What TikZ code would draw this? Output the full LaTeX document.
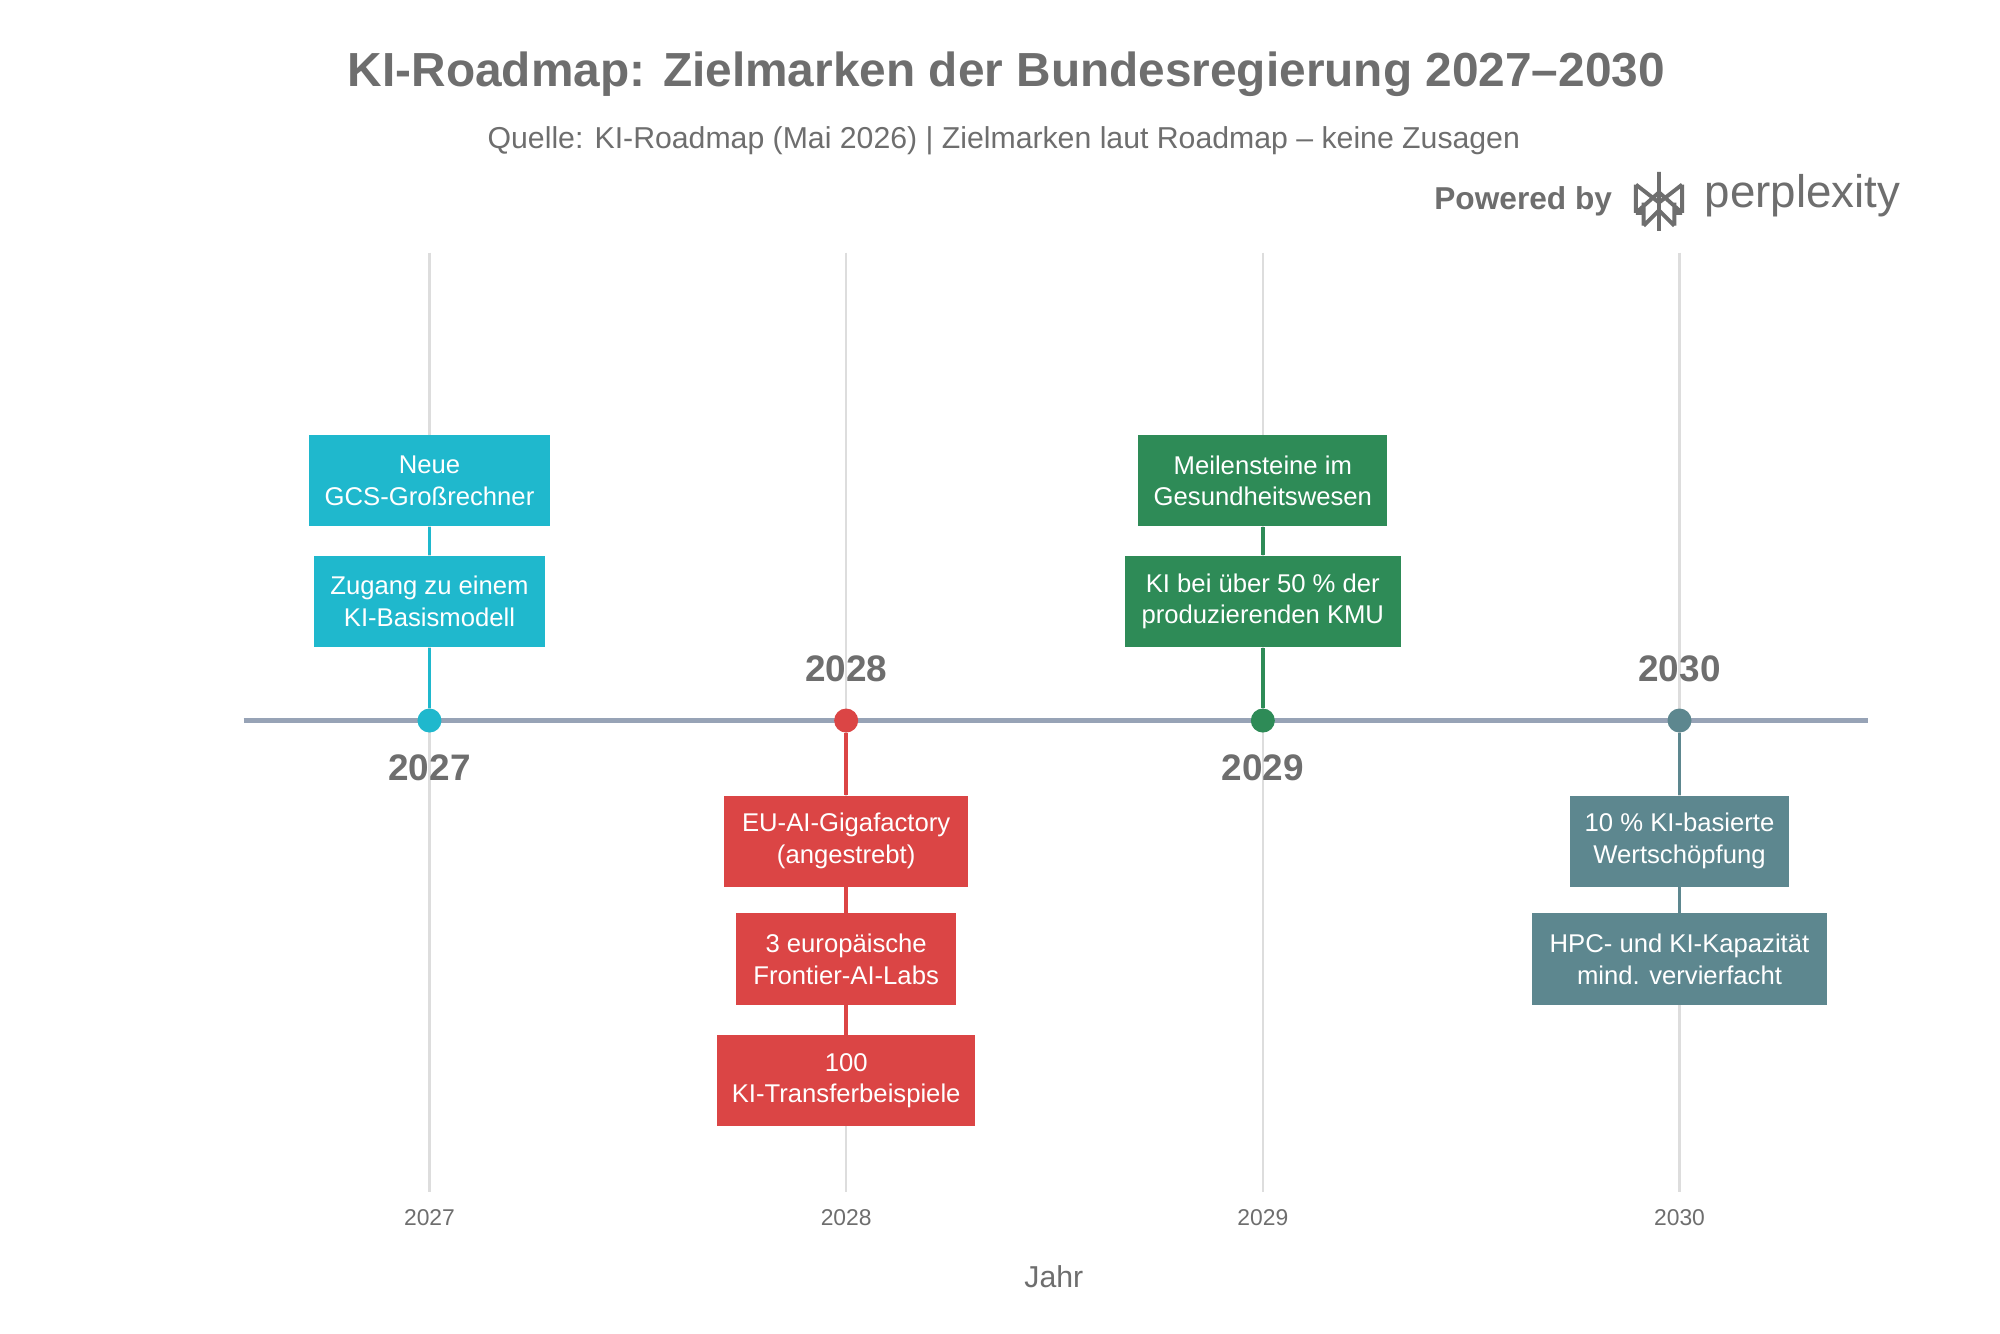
\documentclass[tikz,border=0pt]{standalone}
\usepackage{fontspec}
\setmainfont{Liberation Sans}
\usetikzlibrary{positioning}
\definecolor{cyanK}{HTML}{1FB8CD}
\definecolor{redK}{HTML}{DB4545}
\definecolor{greenK}{HTML}{2E8B57}
\definecolor{slateK}{HTML}{5D878F}
\definecolor{axisK}{HTML}{97A3B6}
\definecolor{gridK}{HTML}{DDDDDD}
\definecolor{textK}{HTML}{6E6E6E}
\tikzset{
  box/.style={fill=#1,text=white,font=\fontsize{7.3}{9}\selectfont,align=center,minimum height=0.91cm,inner sep=2pt},
  yr/.style={text=textK,font=\bfseries\fontsize{10.5}{12}\selectfont},
  tick/.style={text=textK,font=\fontsize{6.5}{8}\selectfont},
  dot/.style={circle,fill=#1,inner sep=0pt,minimum size=0.24cm}
}
\begin{document}
\begin{tikzpicture}[x=0.01282cm,y=-0.01282cm]
\useasboundingbox[fill=white] (0,0) rectangle (1560,1040);
\node[text=textK,font=\bfseries\fontsize{13.6}{16}\selectfont] (title) at (785,58) {KI-Roadmap: Zielmarken der Bundesregierung 2027–2030};
\node[text=textK,font=\fontsize{8.6}{10}\selectfont] (sub) at (783,110) {Quelle: KI-Roadmap (Mai 2026) | Zielmarken laut Roadmap – keine Zusagen};
\node[text=textK,font=\bfseries\fontsize{9}{10}\selectfont,anchor=east] (pow) at (1267,157) {Powered by};
\node[text=textK,font=\fontsize{13}{14}\selectfont,anchor=west] (ppl) at (1320,153) {perplexity};
% logo
\begin{scope}[shift={(1294,156)},draw=textK,line width=1.1pt]
\draw (-18,-12) -- (0,2) -- (18,-12) (-18,-12) -- (-18,10) (18,-12) -- (18,10)
      (0,-22) -- (0,24) (-18,10) -- (0,-6) -- (18,10) (-12,20) -- (-12,2) (12,20) -- (12,2)
      (-18,10) -- (-12,10) (18,10) -- (12,10) (-12,20) -- (0,8) -- (12,20);
\end{scope}
% grid and ticks
\foreach \x/\y in {335/2027,660/2028,985/2029,1310/2030}{
  \draw[gridK,line width=0.6pt] (\x,197) -- (\x,930);
  \node[tick] (t\y) at (\x,950) {\y};
}
\node[text=textK,font=\fontsize{8.6}{10}\selectfont] (jahr) at (822,996) {Jahr};
\coordinate (L) at (190,562);
\coordinate (R) at (1457,562);
\draw[axisK,line width=1.6pt] (L) -- (R);
% 2027
\node[box=cyanK,minimum width=2.4cm] (a1) at (335,375) {Neue\\GCS-Großrechner};
\node[box=cyanK,minimum width=2.3cm] (a2) at (335,469) {Zugang zu einem\\KI-Basismodell};
\node[dot=cyanK] (p27) at (335,562) {};
\draw[cyanK,line width=1pt] (p27) -- (a2) (a2) -- (a1);
\node[yr] (y27) at (335,599) {2027};
% 2028
\node[box=redK,minimum width=2.44cm] (b1) at (660,656) {EU-AI-Gigafactory\\(angestrebt)};
\node[box=redK,minimum width=2.2cm] (b2) at (660,748) {3 europäische\\Frontier-AI-Labs};
\node[box=redK,minimum width=2.58cm] (b3) at (660,843) {100\\KI-Transferbeispiele};
\node[dot=redK] (p28) at (660,562) {};
\draw[redK,line width=1pt] (p28) -- (b1) (b1) -- (b2) (b2) -- (b3);
\node[yr] (y28) at (660,522) {2028};
% 2029
\node[box=greenK,minimum width=2.49cm] (c1) at (985,375) {Meilensteine im\\Gesundheitswesen};
\node[box=greenK,minimum width=2.76cm] (c2) at (985,469) {KI bei über 50 \% der\\produzierenden KMU};
\node[dot=greenK] (p29) at (985,562) {};
\draw[greenK,line width=1pt] (p29) -- (c2) (c2) -- (c1);
\node[yr] (y29) at (985,599) {2029};
% 2030
\node[box=slateK,minimum width=2.18cm] (d1) at (1310,656) {10 \% KI-basierte\\Wertschöpfung};
\node[box=slateK,minimum width=2.95cm] (d2) at (1310,748) {HPC- und KI-Kapazität\\mind. vervierfacht};
\node[dot=slateK] (p30) at (1310,562) {};
\draw[slateK,line width=1pt] (p30) -- (d1) (d1) -- (d2);
\node[yr] (y30) at (1310,522) {2030};
\end{tikzpicture}
\end{document}
